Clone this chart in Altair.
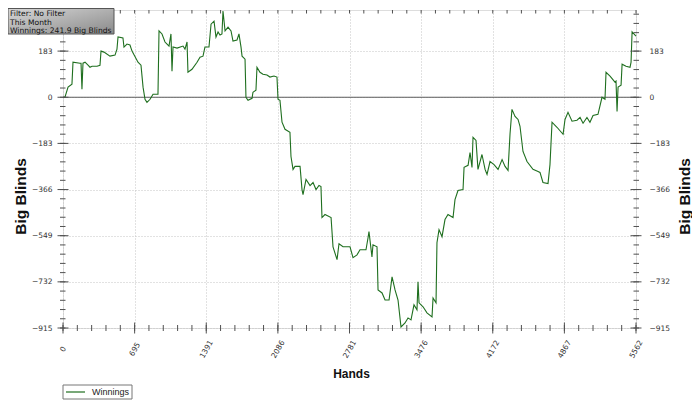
import altair as alt
import pandas as pd

# ---- data ----
hands = [0, 19, 49, 87, 97, 165, 175, 184, 194, 214, 243, 262, 282, 330, 359, 369, 398, 456, 505, 524,
         534, 582, 592, 621, 650, 670, 728, 757, 777, 796, 815, 845, 874, 922, 932, 961, 990, 1010, 1029, 1048,
         1058, 1068, 1107, 1165, 1184, 1204, 1213, 1252, 1301, 1330, 1359, 1378, 1417, 1437, 1466, 1485, 1505, 1524, 1543, 1553,
         1573, 1602, 1631, 1650, 1689, 1708, 1728, 1738, 1767, 1776, 1796, 1835, 1844, 1873, 1883, 1912, 1941, 1980, 2009, 2048,
         2077, 2087, 2106, 2126, 2155, 2203, 2213, 2233, 2252, 2301, 2320, 2330, 2359, 2398, 2427, 2456, 2485, 2504, 2514, 2543,
         2602, 2621, 2660, 2679, 2718, 2786, 2815, 2854, 2883, 2941, 2961, 2970, 2999, 3009, 3048, 3058, 3097, 3126, 3165, 3194,
         3223, 3252, 3281, 3320, 3349, 3378, 3407, 3436, 3446, 3456, 3495, 3533, 3582, 3592, 3621, 3630, 3650, 3679, 3708, 3737,
         3786, 3805, 3834, 3883, 3893, 3932, 3951, 3970, 3980, 4009, 4028, 4067, 4097, 4116, 4145, 4184, 4223, 4262, 4291, 4320,
         4339, 4358, 4388, 4417, 4436, 4465, 4504, 4562, 4611, 4630, 4659, 4708, 4727, 4747, 4795, 4854, 4873, 4902, 4941, 4989,
         5019, 5048, 5086, 5115, 5145, 5193, 5232, 5261, 5271, 5310, 5358, 5368, 5378, 5388, 5417, 5427, 5465, 5504, 5514, 5524, 5562]
big_blinds = [0, 0, 40, 52, 139, 135, 135, 32, 135, 139, 127, 119, 123, 123, 127, 183, 179, 163, 167, 191,
              239, 235, 199, 211, 207, 183, 139, 127, 40, -8, -20, -8, 12, 12, 263, 251, 219, 211, 203, 251,
              103, 199, 195, 203, 191, 219, 99, 111, 139, 159, 163, 199, 199, 290, 302, 239, 259, 247, 251, 342,
              263, 278, 263, 223, 227, 251, 199, 163, 151, 0, -12, -4, 20, 28, 119, 99, 91, 88, 80, 84,
              80, -8, -12, -99, -127, -139, -235, -286, -274, -274, -366, -386, -326, -350, -338, -366, -350, -354, -477, -465,
              -477, -593, -644, -581, -593, -593, -636, -625, -605, -605, -557, -533, -633, -585, -593, -764, -776, -804, -804, -712,
              -764, -804, -911, -895, -875, -883, -823, -843, -732, -815, -831, -855, -871, -796, -815, -577, -525, -553, -485, -465,
              -477, -406, -370, -366, -278, -270, -219, -278, -159, -171, -286, -227, -286, -306, -255, -267, -286, -247, -274, -290,
              -147, -48, -76, -88, -115, -215, -255, -286, -294, -298, -338, -342, -267, -99, -119, -147, -88, -60, -95, -91,
              -80, -103, -80, -99, -72, -68, 0, -8, 99, 84, 60, 64, -56, 40, 48, 131, 123, 119, 139, 259, 242]

x_major = [0, 695.25, 1390.5, 2085.75, 2781, 3476.25, 4171.5, 4866.75, 5562]
x_minor = [139.05 * k for k in range(41)]
y_major = [-915, -732, -549, -366, -183, 0, 183]
y_minor = [-915 + 36.6 * k for k in range(35)]
info_lines = ["Filter: No Filter", "This Month", "Winnings: 241.9 Big Blinds"]
series_name = "Winnings"

W, H = 573, 318
GREEN = "#1f6f1f"
TICK = "#505050"

xscale = alt.Scale(domain=[0, 5562], nice=False, zero=False)
yscale = alt.Scale(domain=[-915, 346], nice=False, zero=False)

df_line = pd.DataFrame({"hands": hands, "bb": big_blinds})

line = alt.Chart(df_line).mark_line(color=GREEN, strokeWidth=1.1).encode(
    x=alt.X("hands:Q", scale=xscale, axis=alt.Axis(
        values=x_major, labelExpr="format(datum.value, '.0f')",
        labelAngle=300, labelAlign="center", labelBaseline="middle", labelPadding=21,
        labelFont="DejaVu Sans", labelFontSize=7.5, labelColor="#333",
        labelOverlap=False, labelFlush=False,
        ticks=False, tickSize=0, domain=False,
        grid=True, gridColor="#c4c4c4", gridDash=[1, 2],
        title="Hands", titleFont="Liberation Sans", titleFontSize=12, titleFontWeight="bold",
        titleColor="#111", titleX=288, titleY=45, titleAlign="center", titleBaseline="middle")),
    y=alt.Y("bb:Q", scale=yscale, axis=alt.Axis(
        orient="left", values=y_major,
        labelFont="DejaVu Sans", labelFontSize=7.5, labelColor="#333", labelPadding=11,
        labelOverlap=False, labelFlush=False,
        ticks=False, tickSize=0, domain=False,
        grid=True, gridColor="#c4c4c4", gridDash=[1, 2],
        title="Big Blinds", titleFont="Liberation Sans", titleFontSize=15.5, titleFontWeight="bold",
        titleColor="#111", titleAngle=270, titleX=-43, titleY=186,
        titleAlign="center", titleBaseline="middle")),
    order=alt.Order("hands:Q"),
)

right_axis = alt.Chart(pd.DataFrame({"v": y_major})).mark_point(opacity=0).encode(
    x=alt.value(0),
    y=alt.Y("v:Q", scale=yscale, axis=alt.Axis(
        orient="right", values=y_major,
        labelFont="DejaVu Sans", labelFontSize=7.5, labelColor="#333", labelPadding=13,
        labelOverlap=False, labelFlush=False,
        ticks=False, tickSize=0, domain=False, grid=False,
        title="Big Blinds", titleFont="Liberation Sans", titleFontSize=15.5, titleFontWeight="bold",
        titleColor="#111", titleAngle=270, titleX=48, titleY=186,
        titleAlign="center", titleBaseline="middle")),
)

zero_rule = alt.Chart(pd.DataFrame({"v": [0]})).mark_rule(color="#5c5c5c", strokeWidth=1).encode(
    y=alt.Y("v:Q", scale=yscale, axis=None))


def hticks(vals, x1, x2):
    return alt.Chart(pd.DataFrame({"v": vals})).mark_rule(color=TICK, strokeWidth=1).encode(
        y=alt.Y("v:Q", scale=yscale, axis=None), x=alt.value(x1), x2=alt.value(x2))


def vticks(vals, y1, y2):
    return alt.Chart(pd.DataFrame({"v": vals})).mark_rule(color=TICK, strokeWidth=1).encode(
        x=alt.X("v:Q", scale=xscale, axis=None), y=alt.value(y1), y2=alt.value(y2))


tick_layers = [
    hticks(y_major, -5.5, 5.5), hticks(y_minor, -3, 2.5),
    hticks(y_major, W - 5.5, W + 5.5), hticks(y_minor, W - 2.5, W + 3),
    vticks(x_major, H - 5.5, H + 5.5), vticks(x_minor, H - 3, H + 3),
    vticks(x_minor, 0, 3.5),
]

one = pd.DataFrame({"a": [0]})

legend_box = alt.Chart(one).mark_rect(fill="white", stroke="#777", strokeWidth=1).encode(
    x=alt.value(0), x2=alt.value(69), y=alt.value(375), y2=alt.value(389))
legend_line = alt.Chart(one).mark_rule(color=GREEN, strokeWidth=1.2).encode(
    x=alt.value(3), x2=alt.value(22), y=alt.value(382))
legend_text = alt.Chart(one).mark_text(align="left", baseline="middle", font="Liberation Sans",
                                       fontSize=9, color="#222").encode(
    x=alt.value(29), y=alt.value(382), text=alt.value(series_name))

grad = alt.Gradient(gradient="linear",
                    stops=[alt.GradientStop(color="#d6d6d6", offset=0),
                           alt.GradientStop(color="#8a8a8a", offset=1)],
                    x1=0, x2=1, y1=0, y2=1)
info_box = alt.Chart(one).mark_rect(fill=grad, stroke="#555", strokeWidth=1).encode(
    x=alt.value(-55), x2=alt.value(51), y=alt.value(-1.5), y2=alt.value(24))
info_texts = [
    alt.Chart(one).mark_text(align="left", baseline="middle", font="DejaVu Sans",
                             fontSize=7.6, color="#111").encode(
        x=alt.value(-53), y=alt.value(4 + 8.5 * i), text=alt.value(t))
    for i, t in enumerate(info_lines)
]

chart = alt.layer(
    zero_rule, line, right_axis, *tick_layers,
    legend_box, legend_line, legend_text, info_box, *info_texts
).resolve_axis(x="independent", y="independent").properties(
    width=W, height=H,
    autosize=alt.AutoSizeParams(type="none"),
    padding={"left": 55, "top": 2, "right": 56, "bottom": 73},
).configure_view(stroke="#555", strokeWidth=1).configure(background="white")

chart.save("out.html", embed_options={"renderer": "svg", "actions": False})
